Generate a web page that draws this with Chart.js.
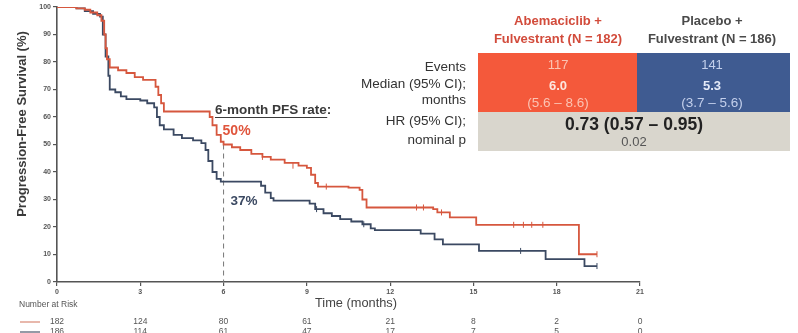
<!DOCTYPE html>
<html>
<head>
<meta charset="utf-8">
<script src="https://cdn.jsdelivr.net/npm/chart.js@4"></script>
<style>
  html, body { margin: 0; padding: 0; background: #fff; }
  #kmChart { display: block; }
</style>
</head>
<body>
<canvas id="kmChart" width="798" height="333"></canvas>
<script>
// Kaplan-Meier curves (months, % PFS)
const abemaTimes = [0, 0.7, 1.0, 1.2, 1.45, 1.6, 1.7, 1.75, 1.8, 1.9, 2.2, 2.5, 2.8, 3.1, 3.55, 3.65, 3.75, 3.85,
    5.5, 5.6, 5.75, 5.9, 6.0, 6.3, 6.6, 7.0, 7.4, 7.7, 8.2, 8.7, 9.0, 9.15, 9.3, 9.4, 10.5, 10.9, 11.0, 11.15,
    13.55, 13.7, 14.15, 15.1, 18.8, 19.45];
const abemaPfs = [100, 99.5, 99, 98, 97, 95, 90, 85, 81, 78, 77, 76, 74.5, 73.5, 71, 68, 65, 62,
    60, 57, 53.5, 51, 50, 49, 48, 46.6, 45.5, 44.5, 43.3, 42.3, 41.5, 39, 36, 34.7, 34.3, 33.5, 30, 27.1,
    26.5, 25.3, 23.5, 20.8, 10.1, 10.1];

const placeboTimes = [0, 0.7, 1.0, 1.3, 1.55, 1.65, 1.75, 1.85, 1.9, 2.1, 2.3, 2.5, 3.0, 3.25, 3.5, 3.6, 3.7, 3.85,
    4.2, 4.5, 4.9, 5.2, 5.35, 5.45, 5.6, 5.75, 5.9, 7.35, 7.5, 7.7, 7.8, 9.1, 9.3, 9.6, 9.9, 10.2, 10.6, 11.0,
    11.3, 11.45, 13.1, 13.6, 13.9, 15.2, 17.6, 19.0, 19.45];
const placeboPfs = [100, 99.5, 98.5, 97.5, 96.5, 90, 82, 75, 70, 69, 67.5, 66.5, 66, 65, 63.5, 60, 57, 55.5,
    53.5, 52.3, 51.5, 50.5, 48, 44, 40, 37.5, 36.5, 35, 32.5, 30.5, 29.6, 28.5, 26.5, 25, 24, 22.9, 22, 21,
    19.5, 18.9, 17.6, 15.5, 13.7, 11.3, 8.3, 5.8, 5.8];

// censoring ticks
const abemaCensorTimes = [7.4, 8.5, 9.7, 12.95, 13.2, 13.85, 16.45, 16.8, 17.1, 17.5, 19.45];
const abemaCensorPfs = [45.5, 42.3, 34.7, 27.1, 27.1, 25.3, 20.8, 20.8, 20.8, 20.8, 10.1];
const placeboCensorTimes = [9.35, 11.05, 16.7, 19.45];
const placeboCensorPfs = [26.5, 21, 11.3, 5.8];

// 6-month landmark
const landmarkMonth = 6;
const landmarkAbema = 50;
const landmarkPlacebo = 37;

// number at risk
const riskTimes = [0, 3, 6, 9, 12, 15, 18, 21];
const abemaAtRisk = [182, 124, 80, 61, 21, 8, 2, 0];
const placeboAtRisk = [186, 114, 61, 47, 17, 7, 5, 0];

// summary table
const armHeaders = [['Abemaciclib +', 'Fulvestrant (N = 182)'], ['Placebo +', 'Fulvestrant (N = 186)']];
const rowLabels = ['Events', 'Median (95% CI);', 'months', 'HR (95% CI);', 'nominal p'];
const armEvents = ['117', '141'];
const armMedians = ['6.0', '5.3'];
const armMedianCis = ['(5.6 \u2013 8.6)', '(3.7 \u2013 5.6)'];
const hazardRatio = '0.73 (0.57 \u2013 0.95)';
const pValue = '0.02';

const RED = '#d6573e';
const BLUE = '#3b4962';
const FONT = '"Liberation Sans", Arial, sans-serif';

const toPoints = (xs, ys) => xs.map((x, i) => ({ x: x, y: ys[i] }));

const overlayPlugin = {
    id: 'overlayText',
    afterDraw(chart) {
        const ctx = chart.ctx;
        const xScale = chart.scales.x;

        ctx.save();

        // y-axis title
        ctx.fillStyle = '#3a3a3a';
        ctx.font = 'bold 13px ' + FONT;
        ctx.textAlign = 'center';
        ctx.textBaseline = 'middle';
        ctx.translate(22, 124);
        ctx.rotate(-Math.PI / 2);
        ctx.fillText('Progression-Free Survival (%)', 0, 0);
        ctx.setTransform(1, 0, 0, 1, 0, 0);

        // x-axis title
        ctx.font = '12.8px ' + FONT;
        ctx.fillStyle = '#444';
        ctx.fillText('Time (months)', 356, 303);

        // number at risk
        ctx.font = '8.5px ' + FONT;
        ctx.textAlign = 'left';
        ctx.fillStyle = '#555';
        ctx.fillText('Number at Risk', 19, 305);
        ctx.lineWidth = 1.5;
        ctx.strokeStyle = '#e0a090';
        ctx.beginPath(); ctx.moveTo(20, 322); ctx.lineTo(40, 322); ctx.stroke();
        ctx.strokeStyle = '#707888';
        ctx.beginPath(); ctx.moveTo(20, 332); ctx.lineTo(40, 332); ctx.stroke();
        ctx.textAlign = 'center';
        riskTimes.forEach((t, i) => {
            const px = xScale.getPixelForValue(t);
            ctx.fillText(String(abemaAtRisk[i]), px, 322);
            ctx.fillText(String(placeboAtRisk[i]), px, 332);
        });

        // 6-month annotation
        const lx = xScale.getPixelForValue(landmarkMonth);
        ctx.font = 'bold 13.5px ' + FONT;
        ctx.textAlign = 'left';
        ctx.fillStyle = '#3a3a3a';
        const label = '6-month PFS rate:';
        ctx.fillText(label, 215, 110);
        const lw = ctx.measureText(label).width;
        ctx.lineWidth = 1;
        ctx.strokeStyle = '#3a3a3a';
        ctx.beginPath(); ctx.moveTo(215, 117.5); ctx.lineTo(215 + lw - 4, 117.5); ctx.stroke();
        ctx.font = 'bold 14px ' + FONT;
        ctx.fillStyle = '#e0553c';
        ctx.fillText(landmarkAbema + '%', lx - 1, 131);
        ctx.font = 'bold 13.5px ' + FONT;
        ctx.fillStyle = BLUE;
        ctx.fillText(landmarkPlacebo + '%', lx + 7, 201);

        // summary table
        const colCenter = [558, 712];
        ctx.fillStyle = '#f4593b';
        ctx.fillRect(478, 53, 159, 59);
        ctx.fillStyle = '#3f5b91';
        ctx.fillRect(637, 53, 153, 59);
        ctx.fillStyle = '#d9d6cd';
        ctx.fillRect(478, 112, 312, 39);

        ctx.textAlign = 'center';
        ctx.font = 'bold 13px ' + FONT;
        armHeaders.forEach((lines, i) => {
            ctx.fillStyle = i === 0 ? '#d24b3b' : '#4a4a4a';
            ctx.fillText(lines[0], colCenter[i], 21);
            ctx.fillText(lines[1], colCenter[i], 39);
        });

        ctx.textAlign = 'right';
        ctx.font = '13.5px ' + FONT;
        ctx.fillStyle = '#333';
        const labelY = [67, 84, 100, 121, 140];
        rowLabels.forEach((txt, i) => ctx.fillText(txt, 466, labelY[i]));

        ctx.textAlign = 'center';
        const cellText = [['#fbc3b3', '#fde6df', '#fbc3b3'], ['#c4d0ec', '#e4eaf8', '#c4d0ec']];
        for (let i = 0; i < 2; i++) {
            ctx.font = '13px ' + FONT;
            ctx.fillStyle = cellText[i][0];
            ctx.fillText(armEvents[i], colCenter[i], 65);
            ctx.font = 'bold 13px ' + FONT;
            ctx.fillStyle = cellText[i][1];
            ctx.fillText(armMedians[i], colCenter[i], 86);
            ctx.font = '13.5px ' + FONT;
            ctx.fillStyle = cellText[i][2];
            ctx.fillText(armMedianCis[i], colCenter[i], 103);
        }
        ctx.font = 'bold 17.5px ' + FONT;
        ctx.fillStyle = '#222';
        ctx.fillText(hazardRatio, 634, 125);
        ctx.font = '13px ' + FONT;
        ctx.fillStyle = '#555';
        ctx.fillText(pValue, 634, 142);

        ctx.restore();
    }
};

const axisStyle = {
    grid: { drawOnChartArea: false, drawTicks: true, tickLength: 4, color: '#555', lineWidth: 1.2 },
    border: { color: '#555', width: 1.6 },
    ticks: { color: '#555', font: { family: FONT, size: 7, weight: 'bold' }, padding: 2 }
};

new Chart(document.getElementById('kmChart').getContext('2d'), {
    type: 'line',
    data: {
        datasets: [
            {
                label: 'Abemaciclib + Fulvestrant',
                data: toPoints(abemaTimes, abemaPfs),
                borderColor: RED,
                borderWidth: 1.8,
                stepped: 'before',
                pointRadius: 0,
                fill: false
            },
            {
                label: 'Placebo + Fulvestrant',
                data: toPoints(placeboTimes, placeboPfs),
                borderColor: BLUE,
                borderWidth: 1.8,
                stepped: 'before',
                pointRadius: 0,
                fill: false
            },
            {
                label: 'Abemaciclib censored',
                data: toPoints(abemaCensorTimes, abemaCensorPfs),
                showLine: false,
                pointStyle: 'line',
                rotation: 90,
                pointRadius: 3,
                borderColor: RED,
                borderWidth: 1
            },
            {
                label: 'Placebo censored',
                data: toPoints(placeboCensorTimes, placeboCensorPfs),
                showLine: false,
                pointStyle: 'line',
                rotation: 90,
                pointRadius: 3,
                borderColor: BLUE,
                borderWidth: 1
            },
            {
                label: '6-month landmark',
                data: [{ x: landmarkMonth, y: landmarkAbema }, { x: landmarkMonth, y: 0 }],
                borderColor: '#777',
                borderWidth: 1,
                borderDash: [5, 4],
                pointRadius: 0
            }
        ]
    },
    options: {
        responsive: false,
        animation: false,
        layout: { padding: { top: 7, right: 158, left: 0, bottom: 0 } },
        scales: {
            x: {
                type: 'linear',
                min: 0,
                max: 21,
                ...axisStyle,
                ticks: { ...axisStyle.ticks, stepSize: 3 },
                afterFit: (scale) => { scale.height = 51; }
            },
            y: {
                min: 0,
                max: 100,
                ...axisStyle,
                ticks: { ...axisStyle.ticks, stepSize: 10 },
                afterFit: (scale) => { scale.width = 57; }
            }
        },
        plugins: {
            legend: { display: false },
            tooltip: { enabled: false }
        }
    },
    plugins: [overlayPlugin]
});
</script>
</body>
</html>
